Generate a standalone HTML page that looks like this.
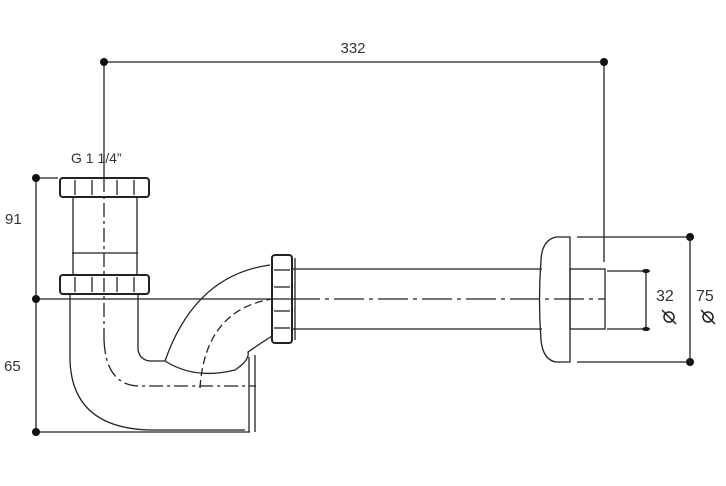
<!DOCTYPE html>
<html><head><style>body{margin:0;background:#fff}svg{display:block}text{font-family:"Liberation Sans",sans-serif;fill:#333}</style></head>
<body>
<svg width="726" height="486" viewBox="0 0 726 486" fill="none" stroke="#222" stroke-width="1.3">
<line x1="104" y1="62" x2="604" y2="62"/>
<line x1="104" y1="62" x2="104" y2="178"/>
<line x1="604" y1="62" x2="604" y2="262"/>
<line x1="36" y1="178" x2="36" y2="432"/>
<line x1="36" y1="178" x2="58" y2="178"/>
<line x1="36" y1="432" x2="250" y2="432"/>
<line x1="36" y1="299" x2="290" y2="299"/>
<line x1="290" y1="299" x2="605" y2="299" stroke-dasharray="30 5 4 5"/>
<g fill="#111" stroke="none">
<circle cx="104" cy="62" r="4"/><circle cx="604" cy="62" r="4"/>
<circle cx="36" cy="178" r="4"/><circle cx="36" cy="299" r="4"/><circle cx="36" cy="432" r="4"/>
<circle cx="690" cy="237" r="4"/><circle cx="690" cy="362" r="4"/>
<ellipse cx="646" cy="271" rx="4" ry="2"/><ellipse cx="646" cy="329" rx="4" ry="2"/>
</g>
<line x1="577" y1="237" x2="690" y2="237"/><line x1="577" y1="362" x2="690" y2="362"/>
<line x1="690" y1="237" x2="690" y2="362"/>
<line x1="607" y1="271" x2="646" y2="271"/><line x1="607" y1="329" x2="646" y2="329"/>
<line x1="646" y1="271" x2="646" y2="329"/>
<rect x="60" y="178" width="89" height="19" rx="3" stroke-width="2"/>
<line x1="75" y1="180" x2="75" y2="195"/><line x1="92" y1="180" x2="92" y2="195"/><line x1="117" y1="180" x2="117" y2="195"/><line x1="134" y1="180" x2="134" y2="195"/>
<line x1="73" y1="197" x2="73" y2="275"/><line x1="137" y1="197" x2="137" y2="275"/>
<line x1="72" y1="253" x2="138" y2="253"/>
<rect x="60" y="275" width="89" height="19" rx="3" stroke-width="2"/>
<line x1="75" y1="277" x2="75" y2="292"/><line x1="92" y1="277" x2="92" y2="292"/><line x1="117" y1="277" x2="117" y2="292"/><line x1="134" y1="277" x2="134" y2="292"/>
<line x1="104" y1="178" x2="104" y2="340" stroke-dasharray="14 4 3 4"/>
<path d="M70 294 V360 Q72 428 150 430 H245"/>
<path d="M138 294 V350 Q140 360 150 361 H165"/>
<path d="M104 340 Q106 386 140 386 H256" stroke-dasharray="14 4 3 4"/>
<path d="M249 357 V432 M255 355 V432"/>
<path d="M165 361 Q195 275 270 265"/>
<path d="M165 361 Q195 380 235 370 Q250 360 248 352 Q258 345 272 336"/>
<path d="M200 388 Q205 310 272 299" stroke-dasharray="8 4"/>
<rect x="272" y="255" width="20" height="88" rx="3" stroke-width="2"/>
<line x1="274" y1="270" x2="290" y2="270"/><line x1="274" y1="287" x2="290" y2="287"/><line x1="274" y1="311" x2="290" y2="311"/><line x1="274" y1="328" x2="290" y2="328"/>
<line x1="295" y1="258" x2="295" y2="340"/>
<line x1="292" y1="269" x2="542" y2="269"/><line x1="292" y1="329" x2="542" y2="329"/>
<path d="M570 237 H556 Q542 240 541 260 Q538 300 541 340 Q543 360 556 362 H570 Z"/>
<rect x="570" y="269" width="35" height="60"/>
<text x="353" y="53" font-size="15" text-anchor="middle" stroke="none">332</text>
<text x="71" y="163" font-size="14" stroke="none">G 1 1/4”</text>
<text x="5" y="224" font-size="15" stroke="none">91</text>
<text x="4" y="371" font-size="15" stroke="none">65</text>
<text x="656" y="301" font-size="16" stroke="none">32</text>
<text x="696" y="301" font-size="16" stroke="none">75</text>
<g stroke-width="1.5"><circle cx="669" cy="317" r="5"/><line x1="662" y1="310" x2="676" y2="324"/>
<circle cx="708" cy="317" r="5"/><line x1="701" y1="310" x2="715" y2="324"/></g>
</svg>
</body></html>
